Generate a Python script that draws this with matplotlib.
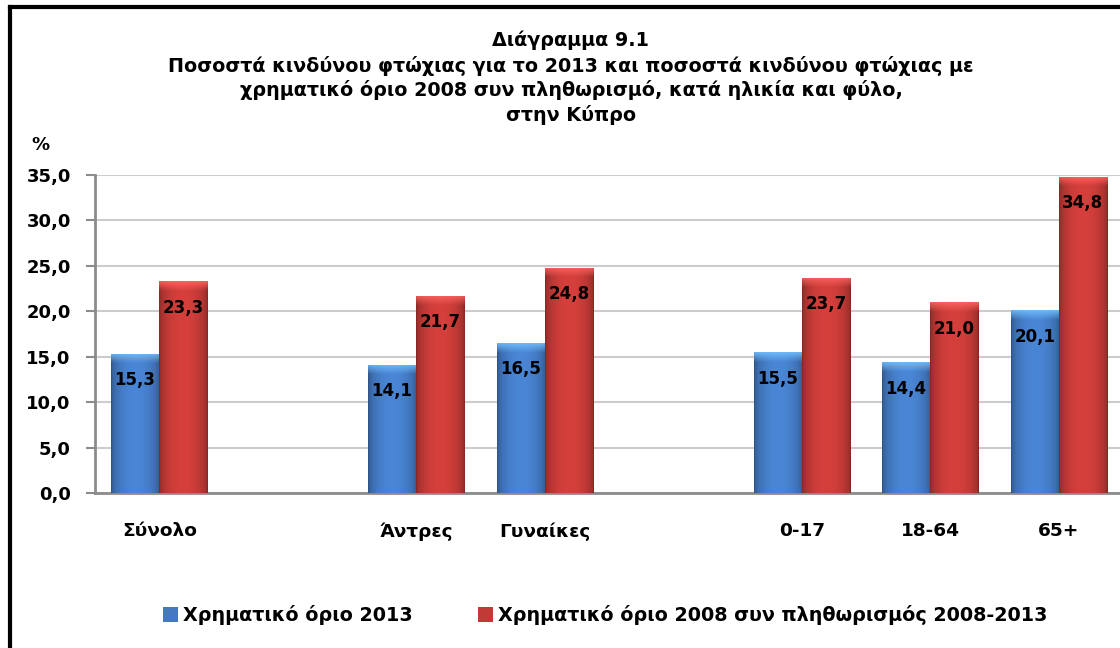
import numpy as np
import matplotlib
matplotlib.use("Agg")
import matplotlib.pyplot as plt
from matplotlib.patches import Patch
from matplotlib.lines import Line2D

plt.rcParams['font.family'] = ['DejaVu Sans']
plt.rcParams['font.weight'] = 'bold'

# data
groups = [['Σύνολο'], ['Άντρες', 'Γυναίκες'], ['0-17', '18-64', '65+']]
threshold_2013 = [15.3, 14.1, 16.5, 15.5, 14.4, 20.1]
threshold_2008 = [23.3, 21.7, 24.8, 23.7, 21.0, 34.8]
series_names = ['Χρηματικό όριο 2013', 'Χρηματικό όριο 2008 συν πληθωρισμός 2008-2013']
title_lines = ['Διάγραμμα 9.1',
               'Ποσοστά κινδύνου φτώχιας για το 2013 και ποσοστά κινδύνου φτώχιας με',
               'χρηματικό όριο 2008 συν πληθωρισμό, κατά ηλικία και φύλο,',
               'στην Κύπρο']
yticks = [0, 5, 10, 15, 20, 25, 30, 35]

# one empty slot between groups
categories, slots = [], []
pos = 0
for g in groups:
    for name in g:
        categories.append(name)
        slots.append(pos)
        pos += 1
    pos += 1
slots = np.array(slots, dtype=float)
n_slots = pos - 1

BLUE = np.array([74, 134, 214]) / 255
RED = np.array([214, 64, 60]) / 255


def shade_bar(ax, bar, base):
    """paint a cylinder-like gradient inside a bar"""
    x, y = bar.get_xy()
    w, h = bar.get_width(), bar.get_height()
    nx, ny = 60, 400
    u = np.linspace(0, 1, nx)
    side = 0.62 + 0.38 * np.sin(np.pi * u) ** 0.5
    img = np.ones((ny, nx, 3)) * base[None, None, :] * side[None, :, None]
    # lighter bevel at the top of the bar (about 1 unit high)
    bevel = int(min(ny, ny * 1.1 / h))
    light = np.clip(base * 1.3 + 0.08, 0, 1)
    for r in range(bevel):
        t = 1 - r / max(bevel, 1)
        img[r] = img[r] * (1 - 0.85 * t) + light[None, :] * 0.85 * t
    img = np.clip(img, 0, 1)
    im = ax.imshow(img, extent=(x, x + w, y, y + h), aspect='auto',
                   origin='upper', zorder=3, interpolation='bilinear')
    im.set_clip_path(bar)


fig = plt.figure(figsize=(11.2, 6.48), dpi=100)
ax = fig.add_axes([95 / 1120, 1 - 493 / 648, 1028 / 1120, 318 / 648])

bw = 0.375
bars1 = ax.bar(slots - bw / 2, threshold_2013, bw, color=BLUE, zorder=2)
bars2 = ax.bar(slots + bw / 2, threshold_2008, bw, color=RED, zorder=2)

for b in bars1:
    shade_bar(ax, b, BLUE)
for b in bars2:
    shade_bar(ax, b, RED)

for bars in (bars1, bars2):
    for b in bars:
        v = b.get_height()
        ax.annotate(f'{v:.1f}'.replace('.', ','),
                    (b.get_x() + b.get_width() / 2, v),
                    xytext=(0, -19), textcoords='offset points',
                    ha='center', va='center', fontsize=12, fontweight='bold',
                    zorder=5)

ax.set_xlim(-0.5, n_slots - 0.5)
ax.set_ylim(0, 35)
ax.set_yticks(yticks)
ax.set_yticklabels([f'{t:.1f}'.replace('.', ',') for t in yticks],
                   fontsize=13, fontweight='bold')
ax.set_xticks(slots)
ax.set_xticklabels(categories, fontsize=13.3, fontweight='bold')
ax.tick_params(axis='x', length=0, pad=21)
ax.tick_params(axis='y', length=6.5, width=1.5, color='#8c8c8c', pad=11)
ax.grid(axis='y', color='#cccccc', linewidth=1.5, zorder=0)
ax.set_axisbelow(True)
for s in ('top', 'right'):
    ax.spines[s].set_visible(False)
for s in ('left', 'bottom'):
    ax.spines[s].set_color('#8c8c8c')
    ax.spines[s].set_linewidth(2)

# title and unit
ys = [40, 66, 90, 115]
for line, yy in zip(title_lines, ys):
    fig.text(571 / 1120, 1 - yy / 648, line, ha='center', va='center',
             fontsize=13.8, fontweight='bold')
fig.text(40 / 1120, 1 - 145 / 648, '%', ha='center', va='center',
         fontsize=13, fontweight='bold')

# legend
handles = [Patch(facecolor=BLUE * 0.9, edgecolor='none'),
           Patch(facecolor=RED * 0.9, edgecolor='none')]
fig.legend(handles, series_names, loc='center', ncol=2,
           bbox_to_anchor=(605 / 1120, 1 - 615 / 648), frameon=False,
           prop={'size': 13.8, 'weight': 'bold'}, handlelength=0.8,
           handleheight=0.8, handletextpad=0.25, columnspacing=3.4)

# frame lines (left and top)
fig.add_artist(Line2D([10 / 1120, 10 / 1120], [0, 1 - 7 / 648],
                      transform=fig.transFigure, color='black', linewidth=3))
fig.add_artist(Line2D([10 / 1120, 1], [1 - 7 / 648, 1 - 7 / 648],
                      transform=fig.transFigure, color='black', linewidth=3))

fig.savefig('out.png', dpi=100)
